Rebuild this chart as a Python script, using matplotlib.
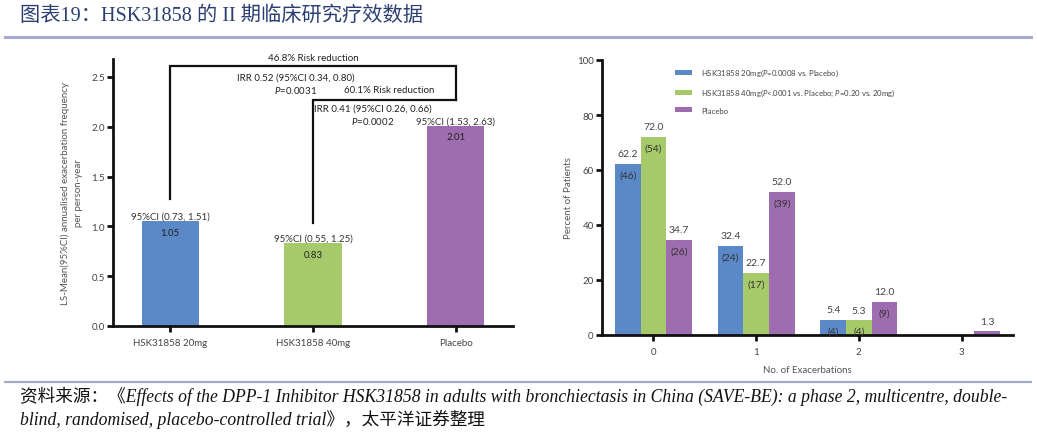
import matplotlib
matplotlib.use("Agg")
import matplotlib.pyplot as plt
import numpy as np

# ---------------- data ----------------
left_categories = ["HSK31858 20mg", "HSK31858 40mg", "Placebo"]
left_values = [1.05, 0.83, 2.01]
left_ci = ["95%CI (0.73, 1.51)", "95%CI (0.55, 1.25)", "95%CI (1.53, 2.63)"]
left_yticks = [0.0, 0.5, 1.0, 1.5, 2.0, 2.5]

right_categories = ["0", "1", "2", "3"]
series_names = [r"HSK31858 20mg($\it{P}$=0.0008 vs. Placebo)",
                r"HSK31858 40mg($\it{P}$<.0001 vs. Placebo; $\it{P}$=0.20 vs. 20mg)",
                "Placebo"]
pct_20mg = [62.2, 32.4, 5.4, 0.0]
pct_40mg = [72.0, 22.7, 5.3, 0.0]
pct_placebo = [34.7, 52.0, 12.0, 1.3]
n_20mg = [46, 24, 4, None]
n_40mg = [54, 17, 4, None]
n_placebo = [26, 39, 9, None]
right_yticks = [0, 20, 40, 60, 80, 100]

title = "图表19：HSK31858 的 II 期临床研究疗效数据"
source_line1 = "资料来源：《Effects of the DPP-1 Inhibitor HSK31858 in adults with bronchiectasis in China (SAVE-BE): a phase 2, multicentre, double-"
source_line2 = "blind, randomised, placebo-controlled trial》，太平洋证券整理"

colors = ["#5B88C6", "#A6C96A", "#9E6DB0"]

plt.rcParams['font.family'] = ['Lato', 'DejaVu Sans']
plt.rcParams['mathtext.fontset'] = 'custom'
plt.rcParams['mathtext.it'] = 'Lato:italic'
plt.rcParams['mathtext.rm'] = 'Lato'

W, H = 1037, 435
fig = plt.figure(figsize=(W / 100, H / 100), dpi=100)


def ax_px(x0, x1, ytop, ybot):
    return fig.add_axes([x0 / W, (H - ybot) / H, (x1 - x0) / W, (ybot - ytop) / H])


def style_axes(ax):
    for s in ["top", "right"]:
        ax.spines[s].set_visible(False)
    for s in ["left", "bottom"]:
        ax.spines[s].set_linewidth(2)
        ax.spines[s].set_color("#111111")
    ax.tick_params(axis="both", length=4, width=2, color="#111111",
                   labelsize=7, labelcolor="#444444", pad=2)


# ---------------- header / footer ----------------
fig.text(20 / W, 1 - 16 / H, title, fontsize=14.6, color="#2B3F72",
         family=["Liberation Serif", "Noto Sans CJK SC"], va="center", ha="left")
fig.add_artist(plt.Line2D([5 / W, 1031 / W], [1 - 37.5 / H] * 2, color="#A7AACB", lw=2.2))
fig.add_artist(plt.Line2D([5 / W, 1031 / W], [1 - 383 / H] * 2, color="#A7AACB", lw=1.6))
foot_font = ["Liberation Serif", "Noto Sans CJK SC"]
fig.text(20 / W, 1 - 396 / H, source_line1, fontsize=12.7, style="italic",
         family=foot_font, va="center", ha="left", color="#111111")
fig.text(20 / W, 1 - 419 / H, source_line2, fontsize=12.7, style="italic",
         family=foot_font, va="center", ha="left", color="#111111")

# ---------------- left chart ----------------
ax1 = ax_px(113, 513, 60, 327)
style_axes(ax1)
x1 = np.arange(len(left_categories))
ax1.bar(x1, left_values, width=0.4, color=colors)
ax1.set_xlim(-0.4, 2.4)
ax1.set_ylim(0, 2.68)
ax1.set_yticks(left_yticks)
ax1.set_yticklabels([f"{v:.1f}" for v in left_yticks])
ax1.set_xticks(x1)
ax1.set_xticklabels(left_categories)
ax1.tick_params(axis="x", pad=5)
ax1.set_ylabel("LS-Mean(95%CI) annualised exacerbation frequency\nper person-year",
               fontsize=7, color="#555555", labelpad=6, linespacing=1.6)

for xi, v, ci in zip(x1, left_values, left_ci):
    ax1.text(xi, v + 0.05, ci, ha="center", va="center", fontsize=7, color="#333333")
    ax1.text(xi, v - 0.11, f"{v:.2f}", ha="center", va="center", fontsize=7, color="#222222")

# brackets
ax1.plot([0, 0, 2, 2], [1.27, 2.61, 2.61, 2.27], color="#111111", lw=1.6,
         clip_on=False, solid_joinstyle="miter")
ax1.plot([1, 1, 2], [1.03, 2.27, 2.27], color="#111111", lw=1.6,
         clip_on=False, solid_joinstyle="miter")
ann_kw = dict(ha="center", va="center", fontsize=7, color="#222222")
ax1.text(1.0, 2.70, "46.8% Risk reduction", **ann_kw)
ax1.text(0.88, 2.50, "IRR 0.52 (95%CI 0.34, 0.80)", **ann_kw)
ax1.text(0.88, 2.37, r"$\it{P}$=0.0031", **ann_kw)
ax1.text(1.535, 2.37, "60.1% Risk reduction", **ann_kw)
ax1.text(1.42, 2.19, "IRR 0.41 (95%CI 0.26, 0.66)", **ann_kw)
ax1.text(1.42, 2.06, r"$\it{P}$=0.0002", **ann_kw)

# ---------------- right chart ----------------
ax2 = ax_px(602, 1013, 61, 336)
style_axes(ax2)
x2 = np.arange(len(right_categories))
bw = 0.25
series = [pct_20mg, pct_40mg, pct_placebo]
counts = [n_20mg, n_40mg, n_placebo]
for i, (vals, ns, c, name) in enumerate(zip(series, counts, colors, series_names)):
    xs = x2 + (i - 1) * bw
    ax2.bar(xs, vals, width=bw, color=c, label=name)
    for xx, v, n in zip(xs, vals, ns):
        if v > 0:
            ax2.annotate(f"{v:.1f}", (xx, v), xytext=(0, 7.5), textcoords="offset points",
                         ha="center", va="center", fontsize=7.5, color="#444444")
        if n is not None:
            ax2.annotate(f"({n})", (xx, v), xytext=(0, -8), textcoords="offset points",
                         ha="center", va="center", fontsize=7.5, color="#333333")
ax2.set_xlim(-0.5, 3.5)
ax2.set_ylim(0, 100)
ax2.set_yticks(right_yticks)
ax2.set_xticks(x2)
ax2.set_xticklabels(right_categories)
ax2.tick_params(axis="x", pad=5)
ax2.set_ylabel("Percent of Patients", fontsize=7, color="#555555", labelpad=3)
ax2.set_xlabel("No. of Exacerbations", fontsize=7, color="#555555", labelpad=6)
ax2.legend(loc="upper left", bbox_to_anchor=(0.178, 0.975), frameon=False,
           borderaxespad=0, borderpad=0,
           fontsize=5.6, handlelength=2.2, handleheight=0.6, labelspacing=1.1,
           handletextpad=1.1, labelcolor="#444444")

fig.savefig("out.png", dpi=100)
